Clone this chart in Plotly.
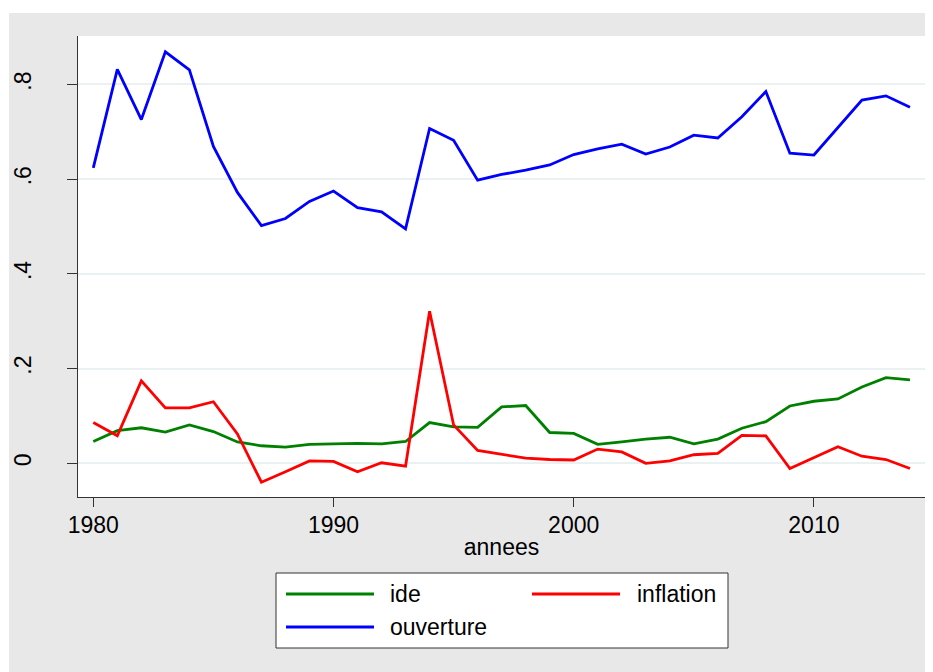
import plotly.graph_objects as go

annees = list(range(1980, 2015))
ide = [0.046, 0.069, 0.075, 0.066, 0.081, 0.067, 0.045, 0.037, 0.034, 0.040,
       0.041, 0.042, 0.041, 0.046, 0.086, 0.077, 0.076, 0.119, 0.122, 0.065,
       0.063, 0.040, 0.045, 0.051, 0.055, 0.041, 0.051, 0.074, 0.088, 0.121,
       0.131, 0.136, 0.161, 0.181, 0.176]
inflation = [0.086, 0.058, 0.174, 0.117, 0.117, 0.130, 0.062, -0.040, -0.018, 0.005,
             0.004, -0.018, 0.001, -0.006, 0.321, 0.081, 0.027, 0.019, 0.011, 0.008,
             0.007, 0.030, 0.024, 0.000, 0.005, 0.018, 0.021, 0.059, 0.058, -0.011,
             0.012, 0.035, 0.015, 0.008, -0.011]
ouverture = [0.624, 0.832, 0.726, 0.869, 0.831, 0.669, 0.572, 0.502, 0.517, 0.553,
             0.575, 0.540, 0.531, 0.495, 0.707, 0.682, 0.598, 0.610, 0.619, 0.630,
             0.652, 0.664, 0.674, 0.653, 0.668, 0.693, 0.687, 0.732, 0.785, 0.655,
             0.651, 0.709, 0.767, 0.776, 0.752]

x_ticks = [1980, 1990, 2000, 2010]
y_ticks = [0, 0.2, 0.4, 0.6, 0.8]
y_ticktext = ["0", ".2", ".4", ".6", ".8"]

series = [("ide", ide, "#008000"), ("inflation", inflation, "#ff0000"),
          ("ouverture", ouverture, "#0000ff")]

FONT = "Liberation Sans, Arial, sans-serif"
LW = 2.8
fig = go.Figure()
for name, vals, col in series:
    fig.add_trace(go.Scatter(x=annees, y=vals, mode="lines", name=name,
                             line=dict(color=col, width=LW), showlegend=False))

OFF = 8  # page body margin
W, H = 933 - OFF, 672 - OFF
L, R, T, B = 78 - OFF, 8, 36 - OFF, 175
pw, ph = W - L - R, H - T - B


def px(x):  # page x -> paper
    return (x - OFF - L) / pw


def py(y):  # page y -> paper
    return (H - B - (y - OFF)) / ph


shapes = [
    dict(type="rect", xref="paper", yref="paper", x0=px(0), x1=px(940), y0=py(13), y1=py(0),
         fillcolor="white", line=dict(width=0), layer="below"),
    dict(type="rect", xref="paper", yref="paper", x0=px(0), x1=px(9), y0=py(680), y1=py(0),
         fillcolor="white", line=dict(width=0), layer="below"),
    dict(type="rect", xref="paper", yref="paper", x0=px(276), x1=px(728), y0=py(648), y1=py(573),
         fillcolor="white", line=dict(color="#333333", width=1)),
]
annotations = []
legend_pos = [(286, 594, 388), (532, 594, 635), (286, 627, 388)]
for (name, vals, col), (lx, ly, tx) in zip(series, legend_pos):
    shapes.append(dict(type="line", xref="paper", yref="paper", x0=px(lx), x1=px(lx + 88),
                       y0=py(ly), y1=py(ly), line=dict(color=col, width=LW)))
    annotations.append(dict(xref="paper", yref="paper", x=px(tx), y=py(ly), text=name,
                            showarrow=False, xanchor="left", yanchor="middle",
                            font=dict(family=FONT, size=23, color="black")))

fig.update_layout(
    width=W, height=H,
    margin=dict(l=L, r=R, t=T, b=B, autoexpand=False),
    paper_bgcolor="#e8e8e8", plot_bgcolor="white",
    font=dict(family=FONT, size=23, color="black"),
    shapes=shapes, annotations=annotations, showlegend=False,
    xaxis=dict(range=[1979.363, 2014.625], tickvals=x_ticks, ticks="outside", ticklen=9,
               tickcolor="#333333", showline=True, linecolor="#333333", linewidth=1,
               showgrid=False, zeroline=False, ticklabelstandoff=-2, automargin=False,
               title=dict(text="annees", standoff=2, font=dict(size=23))),
    yaxis=dict(range=[-0.0712, 0.9024], tickvals=y_ticks, ticktext=y_ticktext,
               tickangle=-90, ticks="outside", ticklen=10, tickcolor="#333333",
               showline=True, linecolor="#333333", linewidth=1, automargin=False,
               showgrid=True, gridcolor="#eaf1f3", gridwidth=2, zeroline=False,
               ticklabelstandoff=27),
)
fig.write_html("out.html")
